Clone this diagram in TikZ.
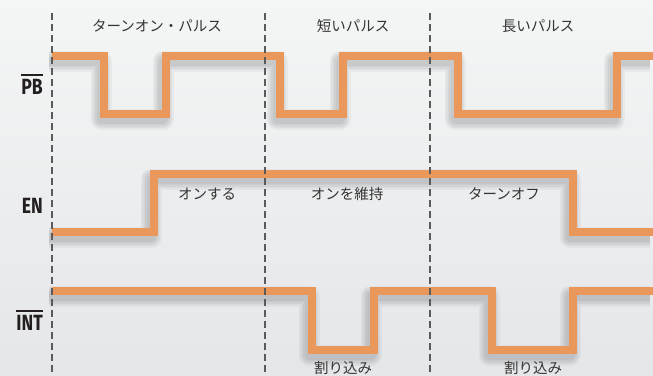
\documentclass[tikz,border=0pt]{standalone}
\usepackage{fontspec}
\newfontfamily\jpfont{Noto Sans CJK JP}
\newfontfamily\labfont[FakeStretch=0.8]{Fira Sans}
\definecolor{wave}{HTML}{E9975B}
\definecolor{bgtop}{HTML}{F4F5F5}
\definecolor{bgbot}{HTML}{E5E6E8}
\definecolor{txt}{HTML}{333333}
\definecolor{labc}{HTML}{231F20}
\definecolor{dashc}{HTML}{5A5A5A}
\tikzset{
  jp/.style={font=\jpfont\fontsize{14.5}{16}\selectfont, text=txt, inner sep=0pt},
  sig/.style={font=\labfont\bfseries\fontsize{22}{24}\selectfont, text=labc, inner sep=0pt, anchor=base east},
  guide/.style={draw=dashc, line width=1.1pt, dash pattern=on 7pt off 4pt},
  wavestyle/.style={draw=wave, line width=7.5pt, line join=miter},
  shadowstyle/.style={draw=black, opacity=0.035, line join=round}
}
\newcommand{\wavepath}[1]{%
  \foreach \w in {9,12,15,18,21}{\draw[shadowstyle, line width=\w pt, shift={(-3pt,-5pt)}] #1;}%
  \draw[wavestyle] #1;}
\begin{document}
\begin{tikzpicture}[x=1pt,y=-1pt]
\useasboundingbox (0,0) rectangle (653,375);
\shade[top color=bgtop,bottom color=bgbot] (0,0) rectangle (653,375);
% guides
\coordinate (g1t) at (52,13); \coordinate (g1b) at (52,375);
\coordinate (g2t) at (265,13); \coordinate (g2b) at (265,375);
\coordinate (g3t) at (430,13); \coordinate (g3b) at (430,375);
% waveforms
\wavepath{(52,56) -| (104,114) -| (166,56) -| (280,114) -| (343,56) -| (458,114) -| (617,56) -- (653,56)}
\wavepath{(52,232) -| (154,174) -| (573,232) -- (653,232)}
\wavepath{(52,291) -| (312,350) -| (374,291) -| (492,350) -| (573,291) -- (653,291)}
\draw[guide] (g1t) -- (g1b);
\draw[guide] (g2t) -- (g2b);
\draw[guide] (g3t) -- (g3b);
% signal labels
\node[sig] (pb) at (43,94) {PB};
\node[sig] (en) at (43,213) {EN};
\node[sig] (int) at (43,330) {INT};
\draw[labc, line width=2pt] ([yshift=4pt]pb.north west) -- ([yshift=4pt]pb.north east);
\draw[labc, line width=2pt] ([yshift=4pt]int.north west) -- ([yshift=4pt]int.north east);
% phase labels
\node[jp] (p1) at (157,26) {ターンオン・パルス};
\node[jp] (p2) at (353,26) {短いパルス};
\node[jp] (p3) at (538,26) {長いパルス};
% EN labels
\node[jp] (e1) at (207,194) {オンする};
\node[jp] (e2) at (347,194) {オンを維持};
\node[jp] (e3) at (504,194) {ターンオフ};
% INT labels
\node[jp] (i1) at (343,368) {割り込み};
\node[jp] (i2) at (533,368) {割り込み};
\end{tikzpicture}
\end{document}
